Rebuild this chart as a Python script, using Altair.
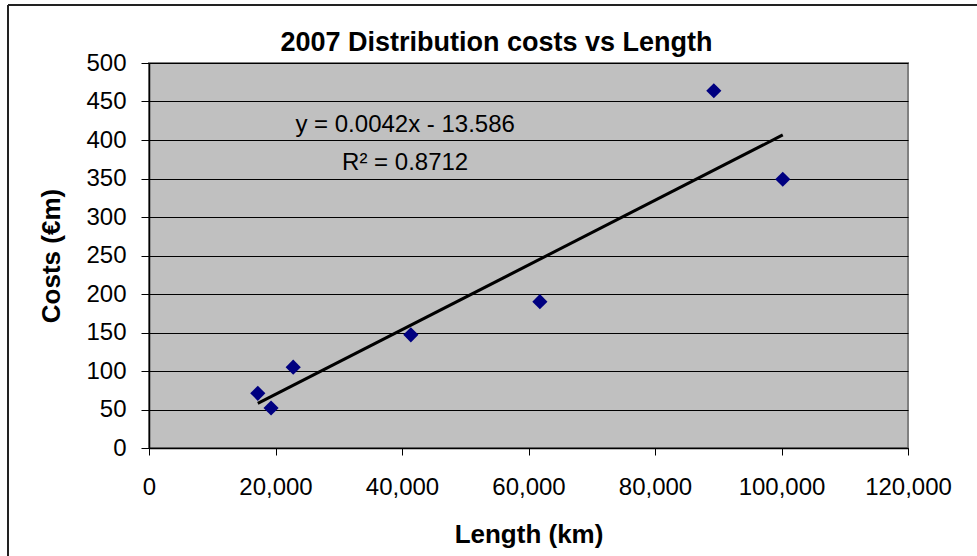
import altair as alt
import pandas as pd

# Data
length_km = [17200, 19300, 22800, 41400, 61800, 89300, 100200]
costs_meur = [71, 52, 105, 147, 190, 464, 349]

x_ticks = [0, 20000, 40000, 60000, 80000, 100000, 120000]
y_ticks = [0, 50, 100, 150, 200, 250, 300, 350, 400, 450, 500]

eq_labels = ["y = 0.0042x - 13.586", "R\u00b2 = 0.8712"]
eq_x = [40500, 40500]
eq_y = [419, 370]

FONT = "Liberation Sans"

df = pd.DataFrame({"Length": length_km, "Costs": costs_meur})
ann = pd.DataFrame({"label": eq_labels, "x": eq_x, "y": eq_y})

xscale = alt.Scale(domain=[0, 120000], nice=False, zero=True)
yscale = alt.Scale(domain=[0, 500], nice=False)

xaxis = alt.Axis(
    title="Length (km)", values=x_ticks, format=",d", grid=False,
    labelOverlap=False, labelBound=False, labelFlush=False,
    domainColor="#000000", domainWidth=1.5, tickColor="#000000", tickSize=7,
    labelFont=FONT, labelFontSize=24, labelColor="#000000", labelPadding=20,
    titleFont=FONT, titleFontSize=26, titleFontWeight="bold", titleColor="#000000",
    titleY=94, titleBaseline="alphabetic",
)
yaxis = alt.Axis(
    title="Costs (\u20acm)", values=y_ticks, grid=True, gridColor="#000000", gridWidth=1,
    labelOverlap=False, labelBound=False, labelFlush=False,
    domainColor="#000000", domainWidth=1.5, tickColor="#000000", tickSize=8,
    labelFont=FONT, labelFontSize=24, labelColor="#000000", labelPadding=15,
    titleFont=FONT, titleFontSize=26, titleFontWeight="bold", titleColor="#000000",
    titleX=-98, titleY=192.5, titleBaseline="middle", titleAlign="center", titleAngle=-90,
)

base = alt.Chart(df)

points = base.mark_point(shape="diamond", filled=True, size=230, color="#000080", opacity=1).encode(
    x=alt.X("Length:Q", scale=xscale, axis=xaxis),
    y=alt.Y("Costs:Q", scale=yscale, axis=yaxis),
)

trend = base.transform_regression("Length", "Costs").mark_line(color="#000000", strokeWidth=3).encode(
    x=alt.X("Length:Q", scale=xscale, axis=xaxis),
    y=alt.Y("Costs:Q", scale=yscale, axis=yaxis),
)

labels = alt.Chart(ann).mark_text(font=FONT, fontSize=24, color="#000000", baseline="middle", align="center").encode(
    x=alt.X("x:Q", scale=xscale, axis=xaxis),
    y=alt.Y("y:Q", scale=yscale, axis=yaxis),
    text="label:N",
)

frame = alt.Chart(df).mark_rule(color="#222222", strokeWidth=2).encode(
    x=alt.value(-141), y=alt.value(-58), y2=alt.value(600)
)
frame_top = alt.Chart(df).mark_rule(color="#222222", strokeWidth=2).encode(
    x=alt.value(-141), x2=alt.value(900), y=alt.value(-58)
)

chart = alt.layer(trend, points, labels, frame, frame_top).properties(
    width=759,
    height=385,
    autosize=alt.AutoSizeParams(type="none"),
    padding={"left": 149, "top": 63, "right": 69, "bottom": 108},
    background="#ffffff",
    title=alt.TitleParams(
        "2007 Distribution costs vs Length", font=FONT, fontSize=27, fontWeight="bold",
        color="#000000", anchor="middle", frame="group", dx=-32, offset=0,
        baseline="alphabetic", dy=74,
    ),
).configure_view(
    fill="#C0C0C0", stroke="#808080", strokeWidth=2
)

chart.save("out.html", embed_options={"renderer": "svg", "actions": False})
